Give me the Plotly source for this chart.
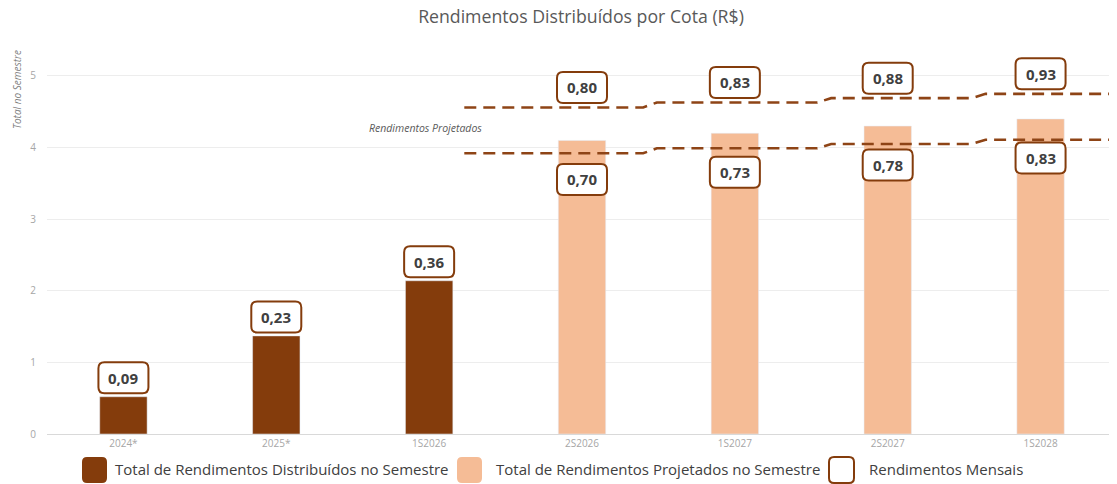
import plotly.graph_objects as go

# ---------------- data ----------------
categories = ["2024*", "2025*", "1S2026", "2S2026", "1S2027", "2S2027", "1S2028"]
distributed_total = [0.52, 1.37, 2.14, None, None, None, None]
projected_total = [None, None, None, 4.10, 4.20, 4.30, 4.40]
hist_monthly_labels = ["0,09", "0,23", "0,36"]
upper_monthly_labels = ["0,80", "0,83", "0,88", "0,93"]
lower_monthly_labels = ["0,70", "0,73", "0,78", "0,83"]
upper_line = [4.56, 4.63, 4.69, 4.75]
lower_line = [3.92, 3.99, 4.05, 4.11]
segment_start = [2.23, 3.49, 4.63, 5.64]
segment_end = [3.40, 4.54, 5.55, 6.60]

# ---------------- styles ----------------
DARK = "#843C0C"
LIGHT = "#F5BC96"
LINE = "#8E4416"
FONT = "Open Sans"
OFF = 8  # page body margin
W, H = 1117 - OFF, 484 - OFF
ML, MR, MT, MB = 47 - OFF, 0, 33 - OFF, 50
PW, PH = W - ML - MR, H - MT - MB

xs = list(range(len(categories)))

fig = go.Figure()
fig.add_trace(go.Bar(x=xs, y=distributed_total, marker_color=DARK, width=0.31,
                     name="Total de Rendimentos Distribuídos no Semestre", hoverinfo="skip"))
fig.add_trace(go.Bar(x=xs, y=projected_total, marker_color=LIGHT, width=0.31,
                     name="Total de Rendimentos Projetados no Semestre", hoverinfo="skip"))


def step_xy(values):
    x, y = [], []
    for s, e, v in zip(segment_start, segment_end, values):
        x += [s, e]
        y += [v, v]
    return x, y


for vals in (upper_line, lower_line):
    lx, ly = step_xy(vals)
    fig.add_trace(go.Scatter(x=lx, y=ly, mode="lines", hoverinfo="skip",
                             line=dict(color=LINE, width=2.6, dash="12px,7px"),
                             name="Rendimentos Mensais", showlegend=False))


def rrect(w, h, r, cx=0, cy=0):
    x0, x1 = cx - w / 2, cx + w / 2
    y0, y1 = cy - h / 2, cy + h / 2
    return (f"M{x0 + r},{y0} L{x1 - r},{y0} Q{x1},{y0} {x1},{y0 + r} "
            f"L{x1},{y1 - r} Q{x1},{y1} {x1 - r},{y1} L{x0 + r},{y1} "
            f"Q{x0},{y1} {x0},{y1 - r} L{x0},{y0 + r} Q{x0},{y0} {x0 + r},{y0} Z")


shapes = []
annotations = []


def label(xv, yv, text, shift):
    shapes.append(dict(type="path", xref="x", yref="y", xsizemode="pixel", ysizemode="pixel",
                       xanchor=xv, yanchor=yv, path=rrect(50, 31, 6, 0, shift),
                       line=dict(color=DARK, width=2), fillcolor="white", layer="above"))
    annotations.append(dict(x=xv, y=yv, xref="x", yref="y", text=f"<b>{text}</b>",
                            showarrow=False, yshift=shift,
                            font=dict(family=FONT, size=15, color="#404040")))


hist_idx = [i for i, v in enumerate(distributed_total) if v is not None]
for i, t in zip(hist_idx, hist_monthly_labels):
    label(i, distributed_total[i], t, 19)

proj_idx = [i for i, v in enumerate(projected_total) if v is not None]
for k, i in enumerate(proj_idx):
    label(i, upper_line[k], upper_monthly_labels[k], 20)
    label(i, projected_total[i], lower_monthly_labels[k], -39)


def px_x(px):
    return (px - OFF - ML) / PW


def px_y(py):
    return (OFF + MT + PH - py) / PH


# custom legend
legend_items = [
    (94.5, dict(fillcolor=DARK, line=dict(width=0)), "Total de Rendimentos Distribuídos no Semestre", 113),
    (469.5, dict(fillcolor=LIGHT, line=dict(width=0)), "Total de Rendimentos Projetados no Semestre", 494),
    (841.5, dict(fillcolor="white", line=dict(color=DARK, width=2)), "Rendimentos Mensais", 867),
]
for cx, style, text, tx in legend_items:
    shapes.append(dict(type="path", xref="paper", yref="paper", xsizemode="pixel",
                       ysizemode="pixel", xanchor=px_x(cx), yanchor=px_y(470),
                       path=rrect(25, 26, 5), **style))
    annotations.append(dict(x=px_x(tx), y=px_y(469), xref="paper", yref="paper",
                            xanchor="left", yanchor="middle", text=text, showarrow=False,
                            font=dict(family=FONT, size=15, color="#404040")))

annotations.append(dict(x=px_x(17), y=px_y(90), xref="paper", yref="paper",
                        text="<i>Total no Semestre</i>", textangle=-90, showarrow=False,
                        xanchor="center", yanchor="middle",
                        font=dict(family=FONT, size=10, color="#7F7F7F")))
annotations.append(dict(x=px_x(426), y=px_y(128), xref="paper", yref="paper",
                        text="<i>Rendimentos Projetados</i>", showarrow=False,
                        xanchor="center", yanchor="middle",
                        font=dict(family=FONT, size=10.5, color="#595959")))

fig.update_layout(
    width=W, height=H,
    margin=dict(l=ML, r=MR, t=MT, b=MB),
    plot_bgcolor="white", paper_bgcolor="white",
    showlegend=False, barmode="overlay",
    title=dict(text="Rendimentos Distribuídos por Cota (R$)", x=px_x(581), xref="paper",
               xanchor="center", y=1 - (17 - OFF) / H, yref="container", yanchor="middle",
               font=dict(family=FONT, size=17.7, color="#595959")),
    xaxis=dict(range=[-0.5, 6.5], tickvals=xs, ticktext=categories, showgrid=False,
               zeroline=False, showline=True, linecolor="#D9D9D9", linewidth=1,
               tickfont=dict(family=FONT, size=10, color="#A6A6A6"), fixedrange=True),
    yaxis=dict(range=[0, 5.6], tickvals=[0, 1, 2, 3, 4, 5], showgrid=True,
               gridcolor="#EDEDED", gridwidth=1, zeroline=False, showline=False,
               ticklabelstandoff=10,
               tickfont=dict(family=FONT, size=10, color="#A6A6A6"), fixedrange=True),
    shapes=shapes, annotations=annotations,
)

fig.write_html("out.html")
